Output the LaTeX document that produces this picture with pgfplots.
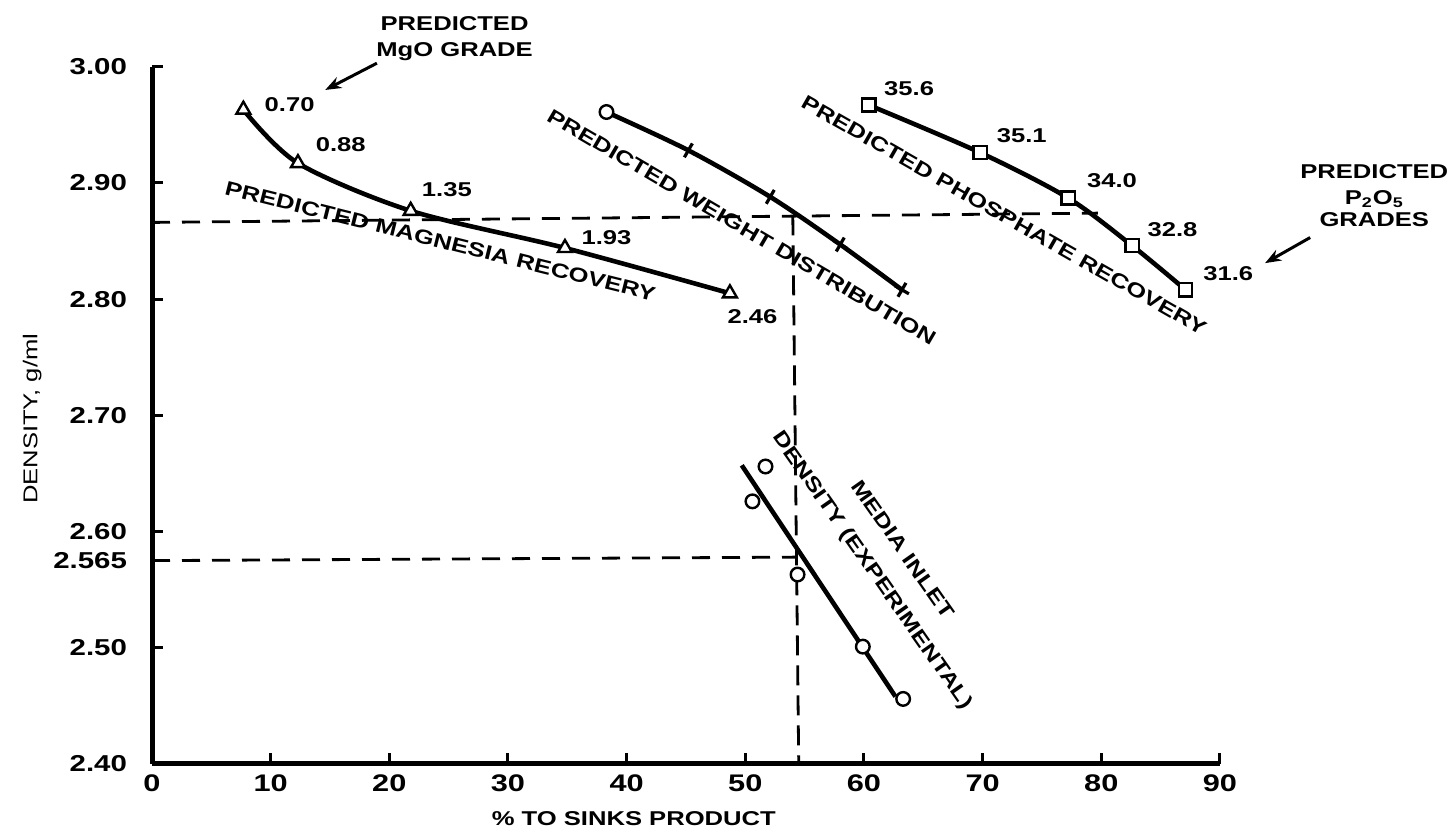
\documentclass[border=0pt]{standalone}
\usepackage{pgfplots}
\pgfplotsset{compat=1.18}
\usepackage{fontspec}
\setmainfont[FakeStretch=1.28]{Liberation Sans}
\usetikzlibrary{arrows.meta}
\tikzset{lb/.style={font=\bfseries}}
\begin{document}
\begin{tikzpicture}
\path[use as bounding box] (-76pt,-37pt) rectangle (651.5pt,382pt);
\begin{axis}[
  at={(0pt,0pt)}, anchor=south west,
  scale only axis, width=534pt, height=348.65pt,
  xmin=0, xmax=90, ymin=2.40, ymax=3.00,
  axis lines=left,
  axis line style={line width=2.5pt, -},
  clip=false,
  xtick={0,10,...,90},
  ytick={2.4,2.5,2.6,2.7,2.8,2.9,3.0},
  extra y ticks={2.575}, extra y tick labels={2.565},
  extra y tick style={major tick length=0pt},
  tick align=inside,
  major tick length=5.5pt,
  tick style={line width=1.5pt, black},
  /pgf/number format/assume math mode=true,
  yticklabel style={/pgf/number format/fixed, /pgf/number format/fixed zerofill, /pgf/number format/precision=2, font=\fontsize{11.5}{13}\selectfont\bfseries, xshift=-9pt},
  xticklabel style={font=\fontsize{12}{14}\selectfont\bfseries, yshift=-2pt},
]
% dashed construction lines
\addplot[line width=1.4pt, dash pattern=on 9pt off 6pt] coordinates {(0,2.866)(79.7,2.874)};
\addplot[line width=1.4pt, dash pattern=on 9pt off 6pt] coordinates {(0,2.575)(54.3,2.578)};
\addplot[line width=1.4pt, dash pattern=on 10pt off 5pt] coordinates {(54.0,2.872)(54.5,2.40)};
% predicted magnesia recovery
\addplot[line width=2.3pt, smooth, mark=triangle*, mark size=4pt, mark options={fill=white, line width=1.2pt}] coordinates {(7.7,2.963)(12.3,2.917)(21.8,2.876)(34.8,2.844)(48.7,2.805)};
% predicted weight distribution
\addplot[line width=2.3pt, smooth] coordinates {(38.3,2.961)(45.2,2.928)(52.1,2.888)(58.0,2.847)(63.2,2.808)};
\addplot[only marks, mark=+, mark size=4pt, mark options={line width=1.6pt, rotate=-30}] coordinates {(45.2,2.928)(52.1,2.888)(58.0,2.847)(63.2,2.808)};
\addplot[only marks, mark=*, mark size=3.4pt, mark options={fill=white, line width=1.2pt}] coordinates {(38.3,2.961)};
% predicted phosphate recovery
\addplot[line width=2.3pt, smooth, mark=square*, mark size=3.3pt, mark options={fill=white, line width=1.2pt}] coordinates {(60.4,2.967)(69.8,2.926)(77.2,2.887)(82.6,2.846)(87.1,2.808)};
% media inlet density (experimental)
\addplot[line width=2.3pt] coordinates {(49.7,2.657)(62.65,2.458)};
\addplot[only marks, mark=*, mark size=3.4pt, mark options={fill=white, line width=1.2pt}] coordinates {(51.7,2.656)(50.6,2.626)(54.4,2.563)(59.9,2.501)(63.3,2.456)};
% value labels
\node[lb] at (axis cs:11.6,2.967) {0.70};
\node[lb] at (axis cs:15.9,2.933) {0.88};
\node[lb] at (axis cs:24.85,2.894) {1.35};
\node[lb] at (axis cs:38.3,2.853) {1.93};
\node[lb] at (axis cs:50.6,2.785) {2.46};
\node[lb] at (axis cs:63.8,2.981) {35.6};
\node[lb] at (axis cs:73.3,2.941) {35.1};
\node[lb] at (axis cs:80.9,2.902) {34.0};
\node[lb] at (axis cs:86.0,2.860) {32.8};
\node[lb] at (axis cs:90.7,2.822) {31.6};
% curve labels
\node[lb, rotate=-14] at (axis cs:24.3,2.850) {PREDICTED MAGNESIA RECOVERY};
\node[lb, rotate=-30.4] at (axis cs:49.7,2.862) {PREDICTED WEIGHT DISTRIBUTION};
\node[lb, rotate=-29.7] at (axis cs:71.8,2.872) {PREDICTED PHOSPHATE RECOVERY};
\node[lb, rotate=-55, align=center, inner sep=0pt] at (axis cs:61.9,2.575) {MEDIA INLET\\[6pt]DENSITY (EXPERIMENTAL)};
% callouts
\node[lb, align=center] at (axis cs:25.5,3.024) {PREDICTED\\[1pt]MgO GRADE};
\draw[line width=1.5pt, -{Stealth[length=8pt,width=6pt]}] (axis cs:18.95,3.003) -- (axis cs:14.6,2.980);
\node[lb, align=center] at (axis cs:103.0,2.889) {PREDICTED\\[1pt]P\textsubscript{2}O\textsubscript{5}\\[-1pt]GRADES};
\draw[line width=1.5pt, -{Stealth[length=8pt,width=6pt]}] (axis cs:97.6,2.853) -- (axis cs:93.8,2.831);
% axis titles
\node[rotate=90] at (axis cs:-10.1,2.697) {DENSITY, g/ml};
\node[lb] at (axis cs:40.6,2.353) {\% TO SINKS PRODUCT};
\end{axis}
\end{tikzpicture}
\end{document}
